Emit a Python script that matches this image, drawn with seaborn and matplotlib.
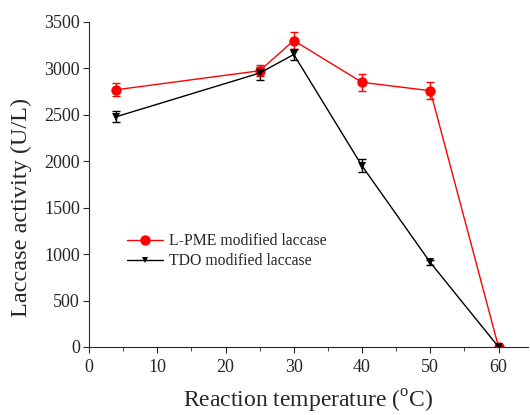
import matplotlib
matplotlib.use('Agg')
import matplotlib.pyplot as plt
import seaborn as sns
import pandas as pd

# data
temps = [4, 25, 30, 40, 50, 60]
lpme = [2770, 2975, 3300, 2850, 2760, 0]
lpme_err = [70, 60, 90, 90, 90, 0]
tdo = [2480, 2950, 3150, 1950, 910, 0]
tdo_err = [60, 70, 60, 70, 30, 0]

sns.set_style('ticks')
plt.rcParams['font.family'] = ['Liberation Serif', 'DejaVu Serif']
plt.rcParams['mathtext.fontset'] = 'custom'
plt.rcParams['mathtext.rm'] = 'Liberation Serif'

df = pd.DataFrame({'temp': temps + temps,
                   'activity': lpme + tdo,
                   'series': ['L-PME modified laccase'] * 6 + ['TDO modified laccase'] * 6})

fig = plt.figure(figsize=(5.3, 4.15), dpi=100)
ax = fig.add_axes([0.168, 0.164, 0.828, 0.783])

ax.errorbar(temps, lpme, yerr=lpme_err, fmt='none', ecolor='red', elinewidth=1, capsize=3)
ax.errorbar(temps, tdo, yerr=tdo_err, fmt='none', ecolor='black', elinewidth=1, capsize=3)
sns.lineplot(data=df, x='temp', y='activity', hue='series', style='series',
             palette={'L-PME modified laccase': 'red', 'TDO modified laccase': 'black'},
             markers={'L-PME modified laccase': 'o', 'TDO modified laccase': 'v'},
             dashes=False, markersize=7.5, linewidth=1, markeredgewidth=0, ax=ax)
# smaller triangles, as in the reference
for line in ax.get_lines():
    if line.get_marker() == 'v':
        line.set_markersize(6)

ax.set_xlim(0, 64.3)
ax.set_ylim(0, 3500)
ax.set_xticks(range(0, 61, 10))
ax.set_xticks(range(5, 61, 10), minor=True)
ax.set_yticks(range(0, 3501, 500))
ax.tick_params(labelsize=13, direction='out', length=4.5)
ax.tick_params(axis='x', pad=4)
ax.tick_params(axis='y', pad=2)
ax.tick_params(which='minor', length=3)
ax.set_xlabel('Reaction temperature ($^{\\mathrm{o}}$C)', fontsize=17, labelpad=9)
ax.set_ylabel('Laccase activity (U/L)', fontsize=17.5)
ax.yaxis.set_label_coords(-0.13, 0.428)
sns.despine(ax=ax)

leg = ax.legend(loc='center left', bbox_to_anchor=(0.055, 0.295), frameon=False,
                fontsize=11.3, handlelength=2.3, handletextpad=0.35,
                labelspacing=0.25, title=None)
for h in leg.legend_handles:
    if h.get_marker() == 'v':
        h.set_markersize(5)

fig.savefig('out.png', dpi=100)
